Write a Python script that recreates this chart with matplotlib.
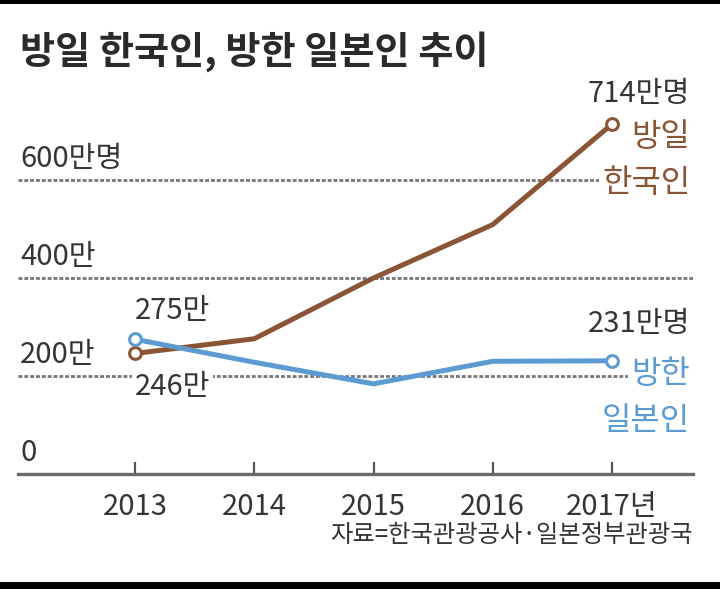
import matplotlib
matplotlib.use("Agg")
import matplotlib.pyplot as plt
import matplotlib.patches as patches

plt.rcParams['font.family'] = ['Noto Sans CJK KR', 'DejaVu Sans']
plt.rcParams['font.weight'] = 'medium'

# data (만명)
years = [2013, 2014, 2015, 2016, 2017]
year_labels = ['2013', '2014', '2015', '2016', '2017년']
kor_to_japan = [246, 276, 400, 509, 714]   # 방일 한국인
jpn_to_korea = [275, 228, 184, 230, 231]   # 방한 일본인
grid_values = [200, 400, 600]
grid_labels = ['200만', '400만', '600만명']

BROWN = '#8a5535'
BLUE = '#5b9bd2'
TEXT = '#353535'
GRID = '#777777'

W, H = 720, 589
fig = plt.figure(figsize=(W / 100, H / 100), dpi=100)
fig.patch.set_facecolor('white')

# black bands top / bottom like the scanned frame
fig.patches.append(patches.Rectangle((0, 1 - 4 / H), 1, 4 / H, transform=fig.transFigure,
                                     facecolor='black', edgecolor='none'))
fig.patches.append(patches.Rectangle((0, 0), 1, 7 / H, transform=fig.transFigure,
                                     facecolor='black', edgecolor='none'))

# axes placed in pixel terms: x 18..693, y=0 at 474px, 0.49 px per 만명
px_per_unit = 0.49
ymax = 750
ax_left, ax_right = 18, 693
ax_bottom = 474
ax_height = ymax * px_per_unit
ax = fig.add_axes([ax_left / W, (H - ax_bottom) / H, (ax_right - ax_left) / W, ax_height / H])
ax.set_facecolor('none')

x0_px, step_px = 135, 119.25
ax.set_xlim(2013 - (x0_px - ax_left) / step_px, 2017 + (ax_right - (x0_px + 4 * step_px)) / step_px)
ax.set_ylim(0, ymax)

for s in ['top', 'right', 'left']:
    ax.spines[s].set_visible(False)
ax.spines['bottom'].set_color('#6a6a6a')
ax.spines['bottom'].set_linewidth(2.4)

ax.set_yticks([])
ax.set_xticks(years)
ax.set_xticklabels(year_labels)
ax.tick_params(axis='x', direction='in', length=9, width=1.6, color='#555555',
               pad=13, labelsize=21, labelcolor=TEXT)

# dotted gridlines
for v in grid_values:
    ax.axhline(v, color=GRID, linewidth=2.0, linestyle=(0, (1.4, 0.7)), zorder=1)
for v, lab in zip(grid_values, grid_labels):
    ax.annotate(lab, xy=(0.003, v), xycoords=('axes fraction', 'data'),
                xytext=(0, 6), textcoords='offset pixels', ha='left', va='bottom',
                fontsize=21, color=TEXT)
ax.annotate('0', xy=(0.003, 0), xycoords=('axes fraction', 'data'),
            xytext=(0, 6), textcoords='offset pixels', ha='left', va='bottom',
            fontsize=21, color=TEXT)

# lines
ax.plot(years, kor_to_japan, color=BROWN, linewidth=3.6, zorder=3, solid_capstyle='round')
ax.plot(years, jpn_to_korea, color=BLUE, linewidth=3.6, zorder=3, solid_capstyle='round')
for series, c in [(kor_to_japan, BROWN), (jpn_to_korea, BLUE)]:
    ax.plot([years[0], years[-1]], [series[0], series[-1]], linestyle='none', marker='o',
            markersize=8.5, markerfacecolor='white', markeredgecolor=c, markeredgewidth=2.2,
            zorder=4)

white_box = dict(boxstyle='square,pad=0.1', facecolor='white', edgecolor='none')

# start labels
ax.annotate(f'{jpn_to_korea[0]}만', xy=(years[0], jpn_to_korea[0]), xytext=(0, 28),
            textcoords='offset pixels', ha='left', va='center', fontsize=21, color=TEXT)
ax.annotate(f'{kor_to_japan[0]}만', xy=(years[0], kor_to_japan[0]), xytext=(0, -34),
            textcoords='offset pixels', ha='left', va='center', fontsize=21, color=TEXT,
            bbox=white_box, zorder=2)

# end labels
dx_end = 78
ax.annotate(f'{kor_to_japan[-1]}만명', xy=(years[-1], kor_to_japan[-1]), xytext=(dx_end, 30),
            textcoords='offset pixels', ha='right', va='center', fontsize=21, color=TEXT,
            annotation_clip=False)
ax.annotate('방일', xy=(years[-1], kor_to_japan[-1]), xytext=(dx_end, -13),
            textcoords='offset pixels', ha='right', va='center', fontsize=23, color=BROWN,
            annotation_clip=False)
ax.annotate('한국인', xy=(years[-1], kor_to_japan[-1]), xytext=(dx_end, -59),
            textcoords='offset pixels', ha='right', va='center', fontsize=23, color=BROWN,
            bbox=white_box, zorder=2, annotation_clip=False)

ax.annotate(f'{jpn_to_korea[-1]}만명', xy=(years[-1], jpn_to_korea[-1]), xytext=(dx_end, 37),
            textcoords='offset pixels', ha='right', va='center', fontsize=21, color=TEXT,
            annotation_clip=False)
ax.annotate('방한', xy=(years[-1], jpn_to_korea[-1]), xytext=(dx_end, -13),
            textcoords='offset pixels', ha='right', va='center', fontsize=23, color=BLUE,
            bbox=white_box, zorder=2, annotation_clip=False)
ax.annotate('일본인', xy=(years[-1], jpn_to_korea[-1]), xytext=(dx_end, -60),
            textcoords='offset pixels', ha='right', va='center', fontsize=23, color=BLUE,
            annotation_clip=False)

# title and source
fig.text(20 / W, 1 - 52 / H, '방일 한국인, 방한 일본인 추이', ha='left', va='center',
         fontsize=27.5, fontweight='bold', color='#2a2a2a')
fig.text(693 / W, 1 - 535 / H, '자료=한국관광공사·일본정부관광국', ha='right', va='center',
         fontsize=17.5, color=TEXT)

fig.savefig('out.png', dpi=100)
